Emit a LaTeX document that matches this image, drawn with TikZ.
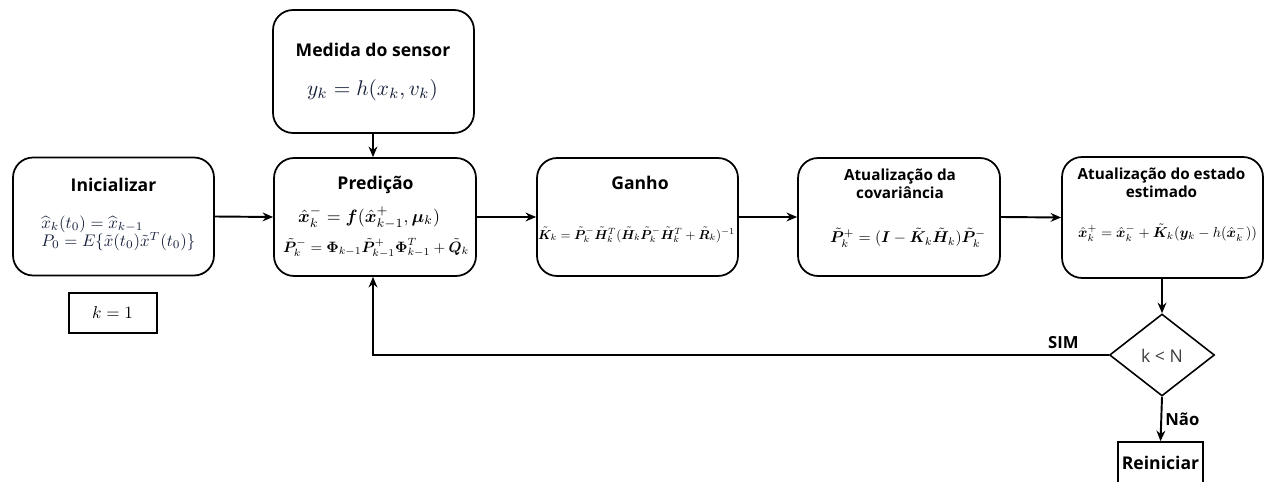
\documentclass[tikz,border=0pt]{standalone}
\usepackage{amsmath,bm}
\usepackage{graphicx}
\usepackage{fontspec}
\newfontfamily\headfont{Open Sans}
\usetikzlibrary{arrows.meta,shapes.geometric}
\definecolor{eqnavy}{HTML}{16203A}
\definecolor{dectext}{HTML}{3C3C3C}
% scaled formula: width in cm, then math content
\newcommand{\eqw}[2]{\resizebox{#1cm}{!}{$#2$}}
\tikzset{
  rbox/.style={draw, line width=1pt, rounded corners=0.4cm, inner sep=0pt},
  sbox/.style={draw, line width=0.9pt, inner sep=0pt},
  ttl/.style={font=\headfont\bfseries\fontsize{10}{11}\selectfont, align=center, inner sep=0pt},
  ttltwo/.style={font=\headfont\bfseries\fontsize{8.7}{10.2}\selectfont, align=center, inner sep=0pt},
  eq/.style={inner sep=0pt},
  arr/.style={-{Stealth[length=6pt,width=5pt]}, line width=1.1pt},
  lbl/.style={font=\headfont\bfseries\fontsize{9.5}{10.5}\selectfont, inner sep=0pt},
}
\begin{document}
\begin{tikzpicture}[x=0.02cm,y=-0.02cm]
\useasboundingbox (0,0) rectangle (1273,482);

% blocks
\node[rbox, minimum width=4.02cm, minimum height=2.36cm] (init) at (113.5,216.5) {};
\node[rbox, minimum width=4.04cm, minimum height=2.36cm] (pred) at (375,217) {};
\node[rbox, minimum width=4.02cm, minimum height=2.46cm] (sens) at (373.5,71.5) {};
\node[rbox, minimum width=4.02cm, minimum height=2.36cm] (gain) at (637.5,217) {};
\node[rbox, minimum width=4.04cm, minimum height=2.36cm] (cov) at (899,217) {};
\node[rbox, minimum width=4.02cm, minimum height=2.42cm] (est) at (1162.5,217.5) {};
\node[sbox, minimum width=1.76cm, minimum height=0.8cm] (kone) at (113,313) {};
\node[draw, line width=0.9pt, diamond, inner sep=0pt, minimum width=2.1cm, minimum height=1.64cm] (dec) at (1162,355) {};
\node[sbox, minimum width=1.7cm, minimum height=1.16cm] (rein) at (1160.5,471) {};

% titles
\node[ttl] (tinit) at (113.5,185) {Inicializar};
\node[ttl] (tpred) at (375.5,185) {Predição};
\node[ttl] (tsens) at (373,50) {Medida do sensor};
\node[ttl] (tgain) at (640,183) {Ganho};
\node[ttltwo] (tcov) at (900,184) {Atualização da\\covariância};
\node[ttltwo] (test) at (1161.5,182.5) {Atualização do estado\\estimado};
\node[ttl] (trein) at (1160.5,463) {Reiniciar};
\node[inner sep=0pt, text=dectext, font=\headfont\fontsize{10}{12}\selectfont] (tdec) at (1162,356) {k < N};

% formulas
\node[eq, text=eqnavy, anchor=west] (einitA) at (41,224) {\eqw{2.04}{\widehat{x}_k(t_0) = \widehat{x}_{k-1}}};
\node[eq, text=eqnavy, anchor=west] (einitB) at (41,241.5) {\eqw{3.08}{P_0 = E\{\tilde{x}(t_0)\tilde{x}^T(t_0)\}}};
\node[eq, text=eqnavy] (esens) at (372.5,90) {\eqw{2.62}{y_k = h(x_k, v_k)}};
\node[eq] (epredA) at (369,218) {\eqw{2.84}{\hat{\bm{x}}_k^- = \bm{f}(\hat{\bm{x}}_{k-1}^+, \bm{\mu}_k)}};
\node[eq] (epredB) at (376,248) {\eqw{3.72}{\tilde{\bm{P}}_k^- = \bm{\Phi}_{k-1}\tilde{\bm{P}}_{k-1}^+\bm{\Phi}_{k-1}^T + \tilde{\bm{Q}}_k}};
\node[eq] (egain) at (636.5,235) {\eqw{3.94}{\tilde{\bm{K}}_k = \tilde{\bm{P}}_k^-\tilde{\bm{H}}_k^T(\tilde{\bm{H}}_k\tilde{\bm{P}}_k^-\tilde{\bm{H}}_k^T + \tilde{\bm{R}}_k)^{-1}}};
\node[eq] (ecov) at (908,238) {\eqw{3.12}{\tilde{\bm{P}}_k^+ = (\bm{I} - \tilde{\bm{K}}_k\tilde{\bm{H}}_k)\tilde{\bm{P}}_k^-}};
\node[eq] (eest) at (1167.5,233) {\eqw{3.58}{\hat{\bm{x}}_k^+ = \hat{\bm{x}}_k^- + \tilde{\bm{K}}_k(\bm{y}_k - h(\hat{\bm{x}}_k^-))}};
\node[eq] (ekone) at (112.5,313) {\eqw{0.82}{k = 1}};

% connectors
\draw[arr] (init.east) -- (pred.west);
\draw[arr] (sens.south -| 373,0) -- (pred.north -| 373,0);
\draw[arr] (pred.east) -- (gain.west);
\draw[arr] (gain.east) -- (cov.west);
\draw[arr] (cov.east) -- (est.west);
\draw[arr] (est.south -| dec.north) -- (dec.north);
\draw[arr] (dec.west) -| (pred.south -| 373,0);
\draw[arr] (dec.south) -- (rein.north);

% branch labels
\node[lbl, anchor=east] (lsim) at (1079,343) {SIM};
\node[lbl, anchor=west] (lnao) at (1165,419) {Não};
\end{tikzpicture}
\end{document}
